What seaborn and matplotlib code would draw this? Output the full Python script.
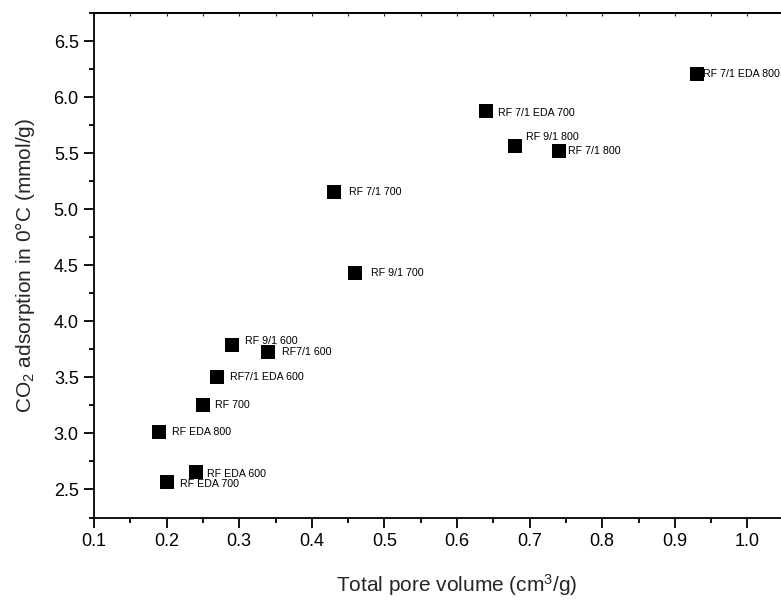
import matplotlib
matplotlib.use("Agg")
import matplotlib.pyplot as plt
import seaborn as sns
import pandas as pd
from matplotlib.ticker import MultipleLocator

sns.set_style("ticks")
plt.rcParams['font.family'] = ['Liberation Sans', 'DejaVu Sans']
plt.rcParams['mathtext.fontset'] = 'custom'
plt.rcParams['mathtext.rm'] = 'Liberation Sans'
plt.rcParams['mathtext.it'] = 'Liberation Sans:italic'

labels = ["RF 7/1 EDA 800", "RF 7/1 EDA 700", "RF 9/1 800", "RF 7/1 800",
          "RF 7/1 700", "RF 9/1 700", "RF 9/1 600", "RF7/1 600",
          "RF7/1 EDA 600", "RF 700", "RF EDA 800", "RF EDA 600", "RF EDA 700"]
pore_volume = [0.93, 0.64, 0.68, 0.74, 0.43, 0.46, 0.29, 0.34, 0.27, 0.25, 0.19, 0.24, 0.20]
co2_uptake = [6.21, 5.88, 5.56, 5.52, 5.15, 4.43, 3.79, 3.73, 3.50, 3.25, 3.01, 2.66, 2.57]
# label offsets in points (dx, dy)
label_dx = [4.8, 8.5, 8, 7, 11, 11.5, 9.5, 10, 9, 9, 9, 8, 10]
label_dy = [0, -2, 7, 0, 0, 0, 3, 0, 0, 0, 0, -2, -2]
xtick_vals = [0.1, 0.2, 0.3, 0.4, 0.5, 0.6, 0.7, 0.8, 0.9, 1.0]
ytick_vals = [2.5, 3.0, 3.5, 4.0, 4.5, 5.0, 5.5, 6.0, 6.5]

df = pd.DataFrame({"x": pore_volume, "y": co2_uptake, "label": labels})

fig = plt.figure(figsize=(7.81, 6.02), dpi=100)
ax = fig.add_axes([94 / 781, (602 - 517.5) / 602, 726 / 781, (517.5 - 13) / 602])

sns.scatterplot(data=df, x="x", y="y", marker="s", s=105, color="black",
                edgecolor="black", linewidth=0, ax=ax, zorder=3)

for xi, yi, lab, dx, dy in zip(pore_volume, co2_uptake, labels, label_dx, label_dy):
    ax.annotate(lab, (xi, yi), xytext=(dx, dy), textcoords="offset points",
                fontsize=7.7, va="center", ha="left", color="black")

ax.set_xlim(0.1, 1.1)
ax.set_ylim(2.25, 6.75)
ax.xaxis.set_minor_locator(MultipleLocator(0.05))
ax.yaxis.set_minor_locator(MultipleLocator(0.25))
ax.set_xticks(xtick_vals)
ax.set_xticklabels([f"{v:.1f}" for v in xtick_vals])
ax.set_yticks(ytick_vals)
ax.set_yticklabels([f"{v:.1f}" for v in ytick_vals])

ax.tick_params(axis="both", which="major", direction="out", length=7, width=1.3,
               labelsize=13, color="black", labelcolor="black", pad=4)
ax.tick_params(axis="both", which="minor", direction="out", length=3.5, width=1.3,
               color="black")

# thin top axis ticks (no labels)
top = ax.secondary_xaxis("top")
top.set_xticks(xtick_vals)
top.xaxis.set_minor_locator(MultipleLocator(0.05))
top.tick_params(axis="x", which="both", direction="in", length=2, width=0.8,
                labeltop=False)
top.spines["top"].set_linewidth(1.3)

for side in ["left", "bottom", "top", "right"]:
    ax.spines[side].set_linewidth(1.3)
    ax.spines[side].set_color("black")

ax.set_xlabel("Total pore volume (cm$^3$/g)", fontsize=15, labelpad=16)
ax.set_ylabel("CO$_2$ adsorption in 0°C (mmol/g)", fontsize=15, labelpad=12)

fig.savefig("out.png", dpi=100)
